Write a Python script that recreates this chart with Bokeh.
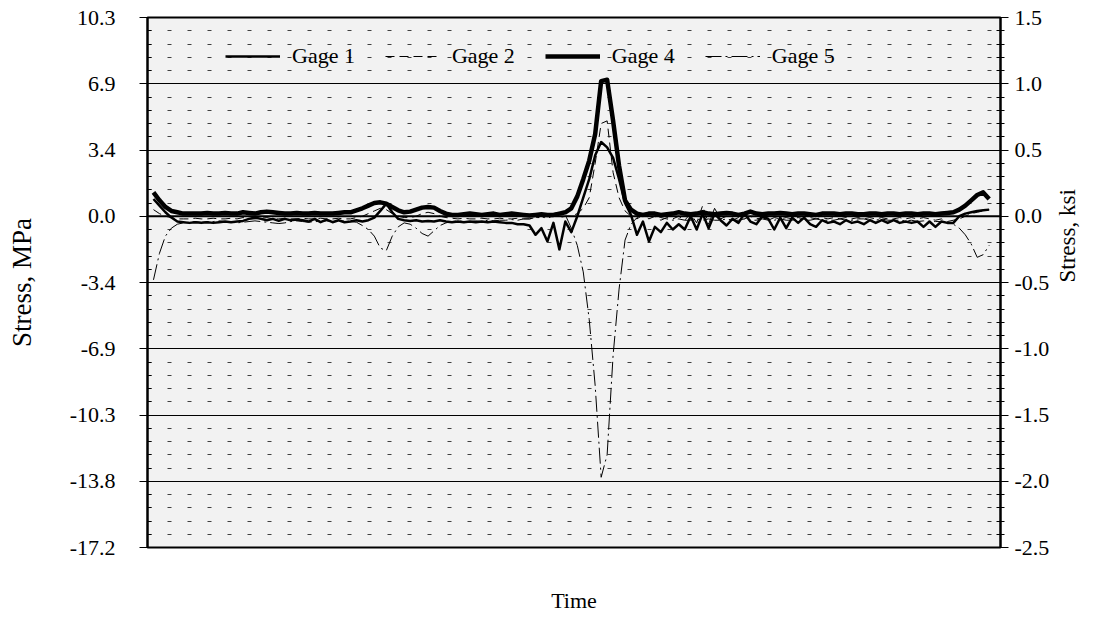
import math
from bokeh.plotting import figure
from bokeh.models import (Range1d, LinearAxis, FixedTicker, CustomJSTickFormatter,
                          Span, Legend, LegendItem, ColumnDataSource)
from bokeh.embed import file_html
from bokeh.resources import INLINE

# ---------------- data (stress in ksi, one value per sample) ----------------
samples = list(range(141))

gage1 = [
    0.13, 0.08, 0.03, -0.01, -0.04, -0.045, -0.05, -0.045, -0.05, -0.045,
    -0.05, -0.045, -0.04, -0.045, -0.04, -0.035, -0.02, -0.01, -0.02, -0.03,
    -0.02, -0.035, -0.02, -0.03, -0.025, -0.03, -0.04, -0.02, -0.045, -0.025,
    -0.045, -0.03, -0.045, -0.04, -0.03, -0.04, -0.03, -0.01, 0.04, 0.095,
    0.03, -0.02, -0.03, -0.035, -0.03, -0.04, -0.035, -0.04, -0.03, -0.04,
    -0.045, -0.04, -0.045, -0.04, -0.045, -0.04, -0.045, -0.04, -0.045, -0.05,
    -0.05, -0.06, -0.06, -0.07, -0.14, -0.09, -0.19, -0.05, -0.25, -0.04,
    -0.12, 0.0, 0.14, 0.28, 0.46, 0.56, 0.52, 0.44, 0.28, 0.10,
    0.01, -0.14, -0.04, -0.19, -0.08, -0.12, -0.05, -0.10, -0.06, -0.10,
    0.0, -0.10, 0.02, -0.09, 0.02, -0.03, -0.07, -0.02, -0.05, 0.02,
    -0.04, -0.06, 0.0, -0.02, -0.10, -0.01, -0.09, -0.01, -0.05, -0.01,
    -0.06, -0.08, -0.03, -0.05, -0.04, -0.06, -0.03, -0.05, -0.04, -0.06,
    -0.03, -0.05, -0.03, -0.05, -0.03, -0.05, -0.04, -0.05, -0.04, -0.08,
    -0.04, -0.08, -0.04, -0.05, -0.05, 0.0, 0.02, 0.03, 0.04, 0.045,
    0.05,
]

gage2 = [
    0.05, 0.02, 0.0, -0.01, -0.02, -0.02, -0.02, -0.015, -0.02, -0.02,
    -0.015, -0.02, -0.02, -0.015, -0.02, -0.01, -0.02, -0.02, -0.015, -0.01,
    -0.02, -0.02, -0.015, -0.02, -0.02, -0.015, -0.02, -0.02, -0.015, -0.02,
    -0.02, -0.015, -0.02, -0.02, -0.01, 0.0, 0.02, 0.04, 0.06, 0.05,
    0.02, 0.0, -0.01, -0.01, 0.0, 0.02, 0.03, 0.02, 0.0, -0.01,
    -0.015, -0.02, -0.015, -0.02, -0.02, -0.015, -0.02, -0.02, -0.015, -0.02,
    -0.02, -0.015, -0.02, -0.02, -0.01, 0.0, -0.02, 0.01, -0.01, 0.0,
    0.0, 0.02, 0.06, 0.14, 0.40, 0.70, 0.72, 0.33, 0.14, 0.04,
    0.0, -0.02, 0.01, -0.02, 0.0, -0.03, -0.01, -0.02, 0.0, -0.03,
    0.02, -0.05, 0.08, -0.06, 0.06, -0.02, 0.0, -0.03, -0.01, -0.02,
    0.0, -0.02, -0.01, -0.03, -0.01, -0.02, -0.01, -0.02, -0.01, -0.02,
    -0.01, -0.02, -0.01, -0.02, -0.01, -0.02, -0.01, -0.02, -0.01, -0.02,
    -0.01, -0.02, -0.01, -0.02, -0.02, -0.01, -0.02, -0.01, -0.02, -0.01,
    -0.02, -0.03, -0.02, -0.04, -0.03, -0.02, 0.0, 0.02, 0.03, 0.04,
    0.05,
]

gage4 = [
    0.18, 0.12, 0.07, 0.04, 0.03, 0.02, 0.02, 0.02, 0.02, 0.025,
    0.02, 0.02, 0.025, 0.02, 0.02, 0.03, 0.025, 0.02, 0.03, 0.035,
    0.03, 0.025, 0.02, 0.02, 0.025, 0.02, 0.02, 0.025, 0.02, 0.02,
    0.02, 0.025, 0.03, 0.03, 0.045, 0.06, 0.08, 0.10, 0.105, 0.095,
    0.07, 0.045, 0.03, 0.035, 0.05, 0.065, 0.07, 0.065, 0.04, 0.02,
    0.01, 0.01, 0.015, 0.02, 0.015, 0.01, 0.015, 0.02, 0.01, 0.015,
    0.02, 0.015, 0.01, 0.005, 0.01, 0.015, 0.01, 0.01, 0.02, 0.03,
    0.06, 0.15, 0.28, 0.42, 0.62, 1.02, 1.03, 0.72, 0.38, 0.12,
    0.05, 0.02, 0.01, 0.02, 0.02, 0.01, 0.015, 0.02, 0.03, 0.02,
    0.015, 0.02, 0.03, 0.02, 0.015, 0.02, 0.025, 0.02, 0.01, 0.02,
    0.035, 0.02, 0.015, 0.02, 0.02, 0.025, 0.02, 0.015, 0.02, 0.02,
    0.015, 0.01, 0.02, 0.02, 0.02, 0.015, 0.02, 0.02, 0.015, 0.015,
    0.02, 0.02, 0.015, 0.02, 0.02, 0.015, 0.02, 0.02, 0.015, 0.02,
    0.02, 0.015, 0.02, 0.025, 0.03, 0.05, 0.08, 0.12, 0.16, 0.18,
    0.13,
]

gage5 = [
    -0.48, -0.28, -0.15, -0.09, -0.06, -0.05, -0.045, -0.04, -0.045, -0.04,
    -0.04, -0.035, -0.04, -0.045, -0.05, -0.045, -0.04, -0.035, -0.04, -0.045,
    -0.05, -0.055, -0.05, -0.04, -0.035, -0.04, -0.045, -0.04, -0.04, -0.035,
    -0.04, -0.04, -0.035, -0.04, -0.045, -0.07, -0.10, -0.15, -0.24, -0.26,
    -0.15, -0.08, -0.05, -0.06, -0.09, -0.13, -0.15, -0.11, -0.07, -0.05,
    -0.04, -0.035, -0.04, -0.04, -0.035, -0.04, -0.03, -0.035, -0.03, -0.03,
    -0.025, -0.03, -0.02, -0.02, -0.01, -0.01, 0.0, 0.02, 0.03, 0.01,
    -0.09, -0.22, -0.42, -0.78, -1.28, -1.97, -1.80, -1.05, -0.55, -0.18,
    -0.06, -0.01, 0.02, 0.03, 0.01, -0.01, -0.02, -0.03, -0.02, -0.03,
    -0.03, -0.02, -0.03, -0.02, -0.03, -0.03, -0.02, -0.03, -0.03, -0.02,
    -0.03, -0.03, -0.02, -0.03, -0.03, -0.02, -0.03, -0.03, -0.02, -0.03,
    -0.03, -0.02, -0.03, -0.03, -0.03, -0.02, -0.03, -0.03, -0.02, -0.02,
    -0.03, -0.03, -0.02, -0.03, -0.03, -0.03, -0.035, -0.03, -0.04, -0.035,
    -0.04, -0.04, -0.04, -0.05, -0.06, -0.09, -0.14, -0.21, -0.31, -0.29,
    -0.22,
]

series_names = ["Gage 1", "Gage 2", "Gage 4", "Gage 5"]

ksi_ticks = [-2.5, -2.0, -1.5, -1.0, -0.5, 0.0, 0.5, 1.0, 1.5]
ksi_labels = ["-2.5", "-2.0", "-1.5", "-1.0", "-0.5", "0.0", "0.5", "1.0", "1.5"]
mpa_labels = ["-17.2", "-13.8", "-10.3", "-6.9", "-3.4", "0.0", "3.4", "6.9", "10.3"]

FONT = "Liberation Serif"
FS = "22px"

# ---------------- figure ----------------
p = figure(width=1095, height=621, output_backend="svg", toolbar_location=None,
           x_range=Range1d(-1.0, 141.9), y_range=Range1d(-2.5, 1.5),
           y_axis_location="right",
           min_border_left=147, min_border_right=92,
           min_border_top=17, min_border_bottom=74,
           background_fill_color="#f2f2f2", border_fill_color="white",
           outline_line_color="black", outline_line_width=2)

minor = [round(-2.5 + 0.1 * k, 2) for k in range(41) if k % 5 != 0]
ticker = FixedTicker(ticks=ksi_ticks, minor_ticks=minor)


def label_formatter(labels):
    return CustomJSTickFormatter(
        args=dict(vals=ksi_ticks, labels=labels),
        code="""
        let k = 0, best = 1e9;
        for (let i = 0; i < vals.length; i++) {
            const d = Math.abs(vals[i] - tick);
            if (d < best) { best = d; k = i; }
        }
        return labels[k];
        """)


def style_axis(ax, label, standoff, title_standoff, title_size):
    ax.ticker = ticker
    ax.axis_line_width = 2
    ax.axis_line_color = "black"
    ax.major_tick_line_color = "black"
    ax.major_tick_line_width = 1
    ax.major_tick_out = 8
    ax.major_tick_in = 0
    ax.minor_tick_line_color = "black"
    ax.minor_tick_line_width = 1
    ax.major_label_text_font = FONT
    ax.major_label_text_font_size = FS
    ax.major_label_text_color = "black"
    ax.major_label_standoff = standoff
    ax.axis_label = label
    ax.axis_label_text_font = FONT
    ax.axis_label_text_font_size = title_size
    ax.axis_label_text_font_style = "normal"
    ax.axis_label_text_color = "black"
    ax.axis_label_standoff = title_standoff


# right axis (ksi) = default y axis
raxis = p.yaxis[0]
style_axis(raxis, "Stress, ksi", 6, 15, "23px")
raxis.formatter = label_formatter(ksi_labels)
raxis.minor_tick_in = 4
raxis.minor_tick_out = 4
try:
    raxis.axis_label_orientation = math.pi / 2   # read bottom-to-top
except Exception:
    pass

# left axis (MPa labels on the same scale)
laxis = LinearAxis()
style_axis(laxis, "Stress, MPa", 24, 30, "27px")
laxis.formatter = label_formatter(mpa_labels)
laxis.minor_tick_in = 4
laxis.minor_tick_out = 0
p.add_layout(laxis, "left")

# bottom axis: only the title
xax = p.xaxis[0]
xax.ticker = FixedTicker(ticks=[])
xax.axis_line_color = None
xax.major_tick_line_color = None
xax.minor_tick_line_color = None
xax.axis_label = "Time"
xax.axis_label_text_font = FONT
xax.axis_label_text_font_size = FS
xax.axis_label_text_font_style = "normal"
xax.axis_label_text_color = "black"
xax.axis_label_standoff = 40

# grids
p.xgrid.visible = False
p.ygrid.ticker = ticker
p.ygrid.grid_line_color = "black"
p.ygrid.grid_line_width = 1.2
p.ygrid.minor_grid_line_color = "#404040"
p.ygrid.minor_grid_line_width = 1
p.ygrid.minor_grid_line_dash = "4 16"

p.add_layout(Span(location=0, dimension="width", line_color="black",
                  line_width=2.2, level="underlay"))

# ---------------- lines ----------------
src = ColumnDataSource(dict(x=samples, g1=gage1, g2=gage2, g4=gage4, g5=gage5))
r1 = p.line("x", "g1", source=src, line_color="black", line_width=2.5, line_join="round")
r2 = p.line("x", "g2", source=src, line_color="black", line_width=1, line_dash="9 5")
r4 = p.line("x", "g4", source=src, line_color="black", line_width=4.5, line_join="round")
r5 = p.line("x", "g5", source=src, line_color="black", line_width=1, line_dash="16 4 2 4")

legend = Legend(items=[LegendItem(label=n, renderers=[r])
                       for n, r in zip(series_names, [r1, r2, r4, r5])],
                orientation="horizontal", location=(78, 478),
                background_fill_alpha=0, border_line_alpha=0,
                label_text_font=FONT, label_text_font_size=FS,
                label_text_color="black",
                glyph_width=55, glyph_height=20, label_height=20,
                label_standoff=12, spacing=30, padding=0, margin=0)
p.add_layout(legend, "center")

open("out.html", "w").write(file_html(p, INLINE))
